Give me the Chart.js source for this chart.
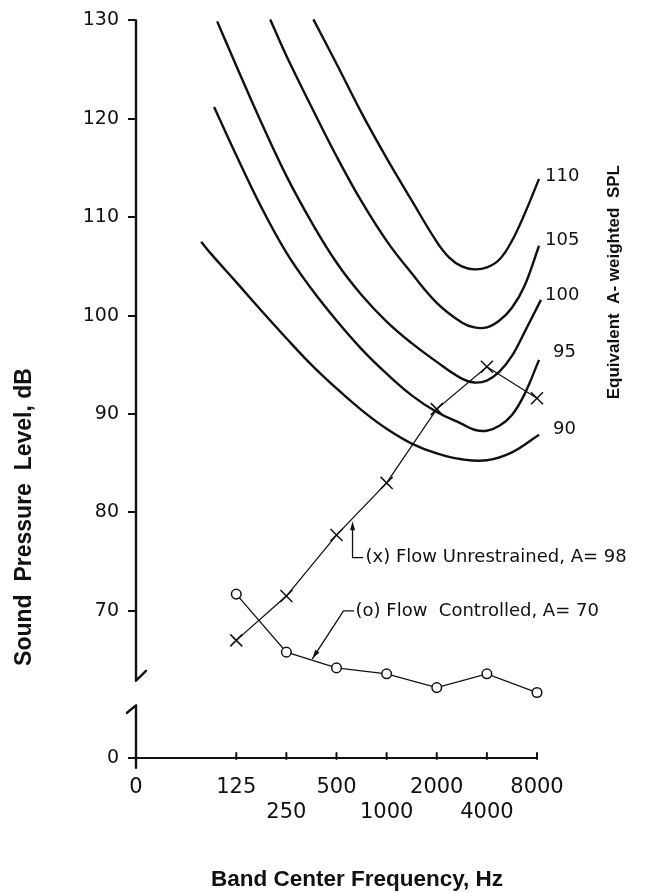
<!DOCTYPE html>
<html>
<head>
<meta charset="utf-8">
<script src="https://cdn.jsdelivr.net/npm/chart.js@4.4.1/dist/chart.umd.min.js"></script>
<style>
  html, body { margin: 0; padding: 0; background: #fff; }
</style>
</head>
<body>
<canvas id="graficoSPL" width="656" height="893"></canvas>
<script>
// Bandas de octava medidas (Hz)
const bandas = [125, 250, 500, 1000, 2000, 4000, 8000];
// Etiquetas del eje X (0 y luego las bandas)
const etiquetasX = ['0', '125', '250', '500', '1000', '2000', '4000', '8000'];
const frecEtiquetasX = [0, 125, 250, 500, 1000, 2000, 4000, 8000];
const ticksY = [70, 80, 90, 100, 110, 120, 130];

// Series medidas
const flujoLibre = [67.0, 71.5, 77.7, 83.0, 90.5, 94.8, 91.6];        // (x) A = 98
const flujoControlado = [71.7, 65.8, 64.2, 63.6, 62.2, 63.6, 61.7];   // (o) A = 70

// Curvas de SPL equivalente ponderado A
const nivelesA = ['90', '95', '100', '105', '110'];
const frec90  = [77, 88, 125, 177, 250, 354, 500, 707, 1000, 1414, 2000, 2828, 4000, 5657, 8230];
const spl90   = [107.5, 106.3, 103.4, 100.5, 97.7, 95.0, 92.6, 90.4, 88.5, 87.0, 86.0, 85.4, 85.3, 86.1, 87.9];
const frec95  = [92, 125, 177, 250, 354, 500, 707, 1000, 1414, 2000, 2828, 3364, 4000, 4757, 5657, 6727, 8230];
const spl95   = [121.2, 116.3, 111.0, 106.4, 102.7, 99.5, 96.6, 94.1, 91.9, 90.2, 89.0, 88.4, 88.3, 88.8, 89.9, 92.0, 95.5];
const frec100 = [96, 125, 177, 250, 354, 500, 707, 1000, 1414, 2000, 2828, 3364, 4000, 4757, 5657, 6727, 8450];
const spl100  = [129.9, 125.4, 119.6, 114.2, 109.5, 105.4, 102.1, 99.4, 97.2, 95.3, 93.6, 93.2, 93.4, 94.3, 95.9, 98.3, 101.6];
const frec105 = [200, 250, 354, 500, 707, 1000, 1414, 2000, 2828, 3364, 4000, 4757, 5657, 6727, 8230];
const spl105  = [130.1, 126.4, 121.2, 116.2, 111.6, 107.6, 104.3, 101.3, 99.3, 98.8, 98.8, 99.5, 100.8, 103.0, 107.1];
const frec110 = [363, 500, 707, 1000, 1414, 2000, 2378, 2828, 3364, 4000, 4757, 5657, 6727, 8230];
const spl110  = [130.1, 125.6, 120.6, 116.0, 111.7, 107.5, 105.9, 105.0, 104.7, 104.9, 105.7, 107.6, 110.3, 113.9];

// posicion en el eje: 125 Hz cae en 2, cada octava suma 1, 0 Hz en 0
function banda(f) {
    return f === 0 ? 0 : 2 + Math.log2(f / 125);
}
function puntos(frecs, valores) {
    return frecs.map((f, i) => ({ x: banda(f), y: valores[i] }));
}

const curvas = [
    [frec90, spl90], [frec95, spl95], [frec100, spl100], [frec105, spl105], [frec110, spl110]
].map(([f, v], i) => ({
    label: nivelesA[i],
    data: puntos(f, v),
    borderColor: '#111',
    borderWidth: 2.4,
    pointRadius: 0,
    tension: 0.4,
    clip: false,
    yAxisID: 'y'
}));

const fuente = '"DejaVu Sans", sans-serif';
const fuenteTitulo = '"Liberation Sans", Arial, sans-serif';

// Ejes, cortes, flechas y rotulos
const dibujos = {
    id: 'dibujos',
    afterDraw(chart) {
        const { ctx, scales: { x, y, y0 } } = chart;
        const ax = x.getPixelForValue(0);
        ctx.save();
        ctx.strokeStyle = '#111';
        ctx.fillStyle = '#111';
        ctx.lineCap = 'round';
        ctx.lineJoin = 'round';

        // eje Y superior con corte
        ctx.lineWidth = 2.4;
        ctx.beginPath();
        ctx.moveTo(ax, y.getPixelForValue(130));
        ctx.lineTo(ax, y.getPixelForValue(62.9));
        ctx.lineTo(ax + 10, y.getPixelForValue(63.9));
        ctx.stroke();
        // tramo inferior
        ctx.beginPath();
        ctx.moveTo(ax - 9, y0.getPixelForValue(4.6));
        ctx.lineTo(ax, y0.getPixelForValue(5.35));
        ctx.lineTo(ax, y0.getPixelForValue(-1.0));
        ctx.stroke();

        // marcas del eje X hacia arriba
        ctx.lineWidth = 2;
        const yb = chart.chartArea.bottom;
        frecEtiquetasX.slice(1).forEach(f => {
            const px = x.getPixelForValue(banda(f));
            ctx.beginPath();
            ctx.moveTo(px, yb - 5);
            ctx.lineTo(px, yb + 1);
            ctx.stroke();
        });

        // flecha (x)
        ctx.lineWidth = 1.3;
        const t1x = x.getPixelForValue(4.32), t1y = y.getPixelForValue(79.1);
        const l1y = y.getPixelForValue(75.4);
        ctx.beginPath();
        ctx.moveTo(t1x, t1y + 6);
        ctx.lineTo(t1x, l1y);
        ctx.lineTo(t1x + 10, l1y);
        ctx.stroke();
        ctx.beginPath();
        ctx.moveTo(t1x, t1y);
        ctx.lineTo(t1x - 2.5, t1y + 9);
        ctx.lineTo(t1x + 2.5, t1y + 9);
        ctx.closePath();
        ctx.fill();

        // flecha (o)
        const t2x = x.getPixelForValue(3.52), t2y = y.getPixelForValue(65.15);
        const b2x = x.getPixelForValue(4.14), b2y = y.getPixelForValue(70);
        ctx.beginPath();
        ctx.moveTo(b2x + 10, b2y);
        ctx.lineTo(b2x, b2y);
        ctx.lineTo(t2x, t2y);
        ctx.stroke();
        const ang = Math.atan2(t2y - b2y, t2x - b2x);
        ctx.beginPath();
        ctx.moveTo(t2x, t2y);
        ctx.lineTo(t2x - 9 * Math.cos(ang) + 2.5 * Math.sin(ang), t2y - 9 * Math.sin(ang) - 2.5 * Math.cos(ang));
        ctx.lineTo(t2x - 9 * Math.cos(ang) - 2.5 * Math.sin(ang), t2y - 9 * Math.sin(ang) + 2.5 * Math.cos(ang));
        ctx.closePath();
        ctx.fill();

        // textos de las series
        ctx.font = '18px ' + fuente;
        ctx.textBaseline = 'middle';
        ctx.textAlign = 'left';
        ctx.fillText('(x) Flow Unrestrained, A= 98', t1x + 13, l1y);
        ctx.fillText('(o) Flow  Controlled, A= 70', b2x + 12, b2y);

        // niveles de las curvas
        ctx.font = '18px ' + fuente;
        const rotY = [88.4, 96.3, 102.1, 107.7, 114.2];
        const rotDx = [16, 16, 8, 8, 8];
        nivelesA.forEach((n, i) => {
            ctx.fillText(n, x.getPixelForValue(8) + rotDx[i], y.getPixelForValue(rotY[i]));
        });

        // rotulo vertical derecho
        ctx.save();
        ctx.translate(614, y.getPixelForValue(103.4));
        ctx.rotate(-Math.PI / 2);
        ctx.textAlign = 'center';
        ctx.font = 'bold 17px ' + fuenteTitulo;
        ctx.fillText('Equivalent  A- weighted  SPL', 0, 0);
        ctx.restore();

        // titulo eje Y
        ctx.save();
        ctx.translate(25, 517);
        ctx.rotate(-Math.PI / 2);
        ctx.textAlign = 'center';
        ctx.font = 'bold 23px ' + fuenteTitulo;
        ctx.fillText('Sound  Pressure  Level, dB', 0, 0);
        ctx.restore();

        // titulo eje X
        ctx.textAlign = 'center';
        ctx.font = 'bold 22.5px ' + fuenteTitulo;
        ctx.fillText('Band Center Frequency, Hz', 357, 880);

        ctx.restore();
    }
};

const ejeIzq = {
    type: 'linear',
    position: 'left',
    stack: 'izq',
    afterFit: s => { s.width = 136; },
    ticks: {
        color: '#111',
        padding: 9,
        font: { family: fuente, size: 19 }
    },
    grid: { drawOnChartArea: false, tickLength: 8, color: '#111', lineWidth: 2 },
    border: { display: false }
};

const ctxSPL = document.getElementById('graficoSPL').getContext('2d');
new Chart(ctxSPL, {
    type: 'line',
    data: {
        datasets: [
            ...curvas,
            {
                label: 'Flow Unrestrained',
                data: puntos(bandas, flujoLibre),
                borderColor: '#111',
                backgroundColor: '#111',
                borderWidth: 1.3,
                pointStyle: 'crossRot',
                pointRadius: 8.5,
                pointBorderWidth: 1.5,
                tension: 0,
                clip: false,
                yAxisID: 'y'
            },
            {
                label: 'Flow Controlled',
                data: puntos(bandas, flujoControlado),
                borderColor: '#111',
                backgroundColor: '#fff',
                borderWidth: 1.3,
                pointStyle: 'circle',
                pointRadius: 4.8,
                pointBorderWidth: 1.5,
                tension: 0,
                clip: false,
                yAxisID: 'y'
            }
        ]
    },
    options: {
        responsive: false,
        devicePixelRatio: 1,
        animation: false,
        layout: { padding: { top: 16, right: 119, bottom: 0, left: 0 } },
        plugins: {
            legend: { display: false },
            tooltip: { enabled: false }
        },
        scales: {
            x: {
                type: 'linear',
                min: 0,
                max: 8,
                afterBuildTicks: s => { s.ticks = frecEtiquetasX.map(f => ({ value: banda(f) })); },
                afterFit: s => { s.height = 135; },
                ticks: {
                    color: '#111',
                    padding: 17,
                    maxRotation: 0,
                    autoSkip: false,
                    font: { family: fuente, size: 21, lineHeight: 25 / 21 },
                    callback: (v, i) => (i === 2 || i === 4 || i === 6) ? ['', etiquetasX[i]] : etiquetasX[i]
                },
                grid: { display: false, drawTicks: false },
                border: { display: true, color: '#111', width: 2 }
            },
            // tramo inferior (solo el 0) primero: la pila se coloca de abajo hacia arriba
            y0: {
                ...ejeIzq,
                stackWeight: 53,
                min: 0,
                max: 5.35,
                afterBuildTicks: s => { s.ticks = [{ value: 0 }]; }
            },
            y: {
                ...ejeIzq,
                stackWeight: 689,
                min: 60.4,
                max: 130,
                afterBuildTicks: s => { s.ticks = ticksY.map(v => ({ value: v })); }
            }
        }
    },
    plugins: [dibujos]
});
</script>
</body>
</html>
